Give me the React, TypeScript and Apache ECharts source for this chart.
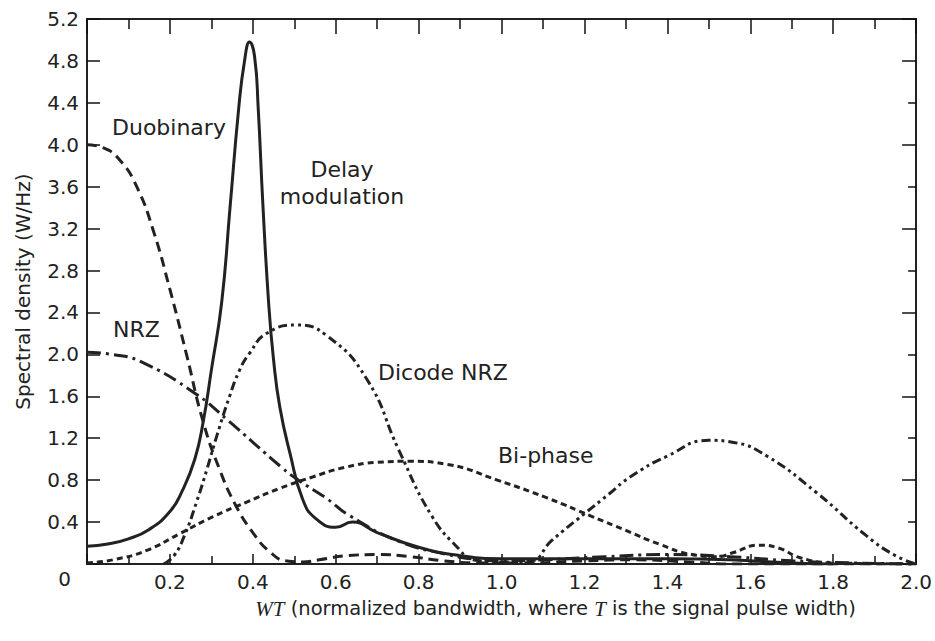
import React, { useEffect, useRef } from "react";
import * as echarts from "echarts";

// ---- Data ----
const xTicks = [0, 0.2, 0.4, 0.6, 0.8, 1.0, 1.2, 1.4, 1.6, 1.8, 2.0];
const yTicks = [0, 0.4, 0.8, 1.2, 1.6, 2.0, 2.4, 2.8, 3.2, 3.6, 4.0, 4.4, 4.8, 5.2];

const duobinary: [number, number][] = [
  [0, 4.0], [0.04, 3.97], [0.08, 3.85], [0.12, 3.6], [0.16, 3.18], [0.2, 2.62],
  [0.24, 2.0], [0.28, 1.36], [0.32, 0.9], [0.36, 0.55], [0.4, 0.3], [0.44, 0.12],
  [0.48, 0.03], [0.52, 0.02], [0.56, 0.04], [0.63, 0.08], [0.7, 0.09], [0.78, 0.07],
  [0.86, 0.03], [0.95, 0.01], [1.05, 0.01], [1.2, 0.03], [1.32, 0.04], [1.45, 0.02],
  [1.55, 0.0], [2.0, 0.0],
];

const delayModulation: [number, number][] = [
  [0, 0.17], [0.05, 0.19], [0.1, 0.24], [0.15, 0.33], [0.2, 0.5], [0.23, 0.7],
  [0.26, 1.0], [0.28, 1.35], [0.3, 1.85], [0.325, 2.5], [0.345, 3.4], [0.366, 4.35],
  [0.38, 4.8], [0.392, 4.98], [0.404, 4.85], [0.413, 4.35], [0.424, 3.45], [0.438, 2.5],
  [0.45, 1.95], [0.465, 1.5], [0.49, 1.05], [0.52, 0.62], [0.55, 0.44], [0.6, 0.35],
  [0.64, 0.4], [0.7, 0.3], [0.8, 0.16], [0.9, 0.08], [1.0, 0.05], [1.2, 0.05],
  [1.4, 0.05], [1.55, 0.04], [1.7, 0.01], [1.8, 0.0],
];

const nrz: [number, number][] = [
  [0, 2.02], [0.06, 2.0], [0.13, 1.93], [0.26, 1.63], [0.34, 1.37], [0.47, 0.92],
  [0.51, 0.8], [0.58, 0.62], [0.63, 0.47], [0.75, 0.22], [0.87, 0.09], [0.95, 0.04],
  [1.0, 0.03], [1.1, 0.04], [1.25, 0.07], [1.4, 0.09], [1.55, 0.07], [1.7, 0.03],
  [1.85, 0.01], [2.0, 0.0],
];

const biPhase: [number, number][] = [
  [0, 0.01], [0.063, 0.04], [0.144, 0.13], [0.224, 0.29], [0.303, 0.45], [0.385, 0.59],
  [0.464, 0.72], [0.544, 0.83], [0.62, 0.92], [0.7, 0.97], [0.78, 0.98], [0.87, 0.95],
  [0.99, 0.8], [1.11, 0.63], [1.22, 0.45], [1.3, 0.32], [1.38, 0.19], [1.46, 0.09],
  [1.52, 0.07], [1.56, 0.11], [1.62, 0.18], [1.67, 0.15], [1.72, 0.06], [1.8, 0.01],
  [2.0, 0.0],
];

const dicodeNrz: [number, number][] = [
  [0.185, 0.0], [0.21, 0.08], [0.235, 0.27], [0.265, 0.6], [0.289, 0.9], [0.313, 1.22],
  [0.344, 1.6], [0.368, 1.85], [0.392, 2.01], [0.433, 2.2], [0.505, 2.28], [0.578, 2.18],
  [0.674, 1.77], [0.753, 1.08], [0.833, 0.45], [0.898, 0.14], [0.93, 0.04], [1.0, 0.02],
  [1.07, 0.03], [1.12, 0.22], [1.2, 0.48], [1.26, 0.67], [1.31, 0.83], [1.4, 1.03],
  [1.5, 1.18], [1.56, 1.16], [1.64, 1.03], [1.76, 0.68], [1.88, 0.27], [1.95, 0.08],
  [2.0, 0.0],
];

const seriesNames = ["Duobinary", "Delay modulation", "NRZ", "Bi-phase", "Dicode NRZ"];

const INK = "#222";
const FONT = "DejaVu Sans";

export default function App() {
  const ref = useRef<HTMLDivElement>(null);

  useEffect(() => {
    if (!ref.current) return;
    const chart = echarts.init(ref.current, undefined, { renderer: "svg" });

    const lineSeries = (name: string, data: [number, number][], type: any) => ({
      name,
      type: "line",
      data,
      smooth: 0.5,
      showSymbol: false,
      symbol: "none",
      lineStyle: { color: INK, width: 3, type },
      z: 3,
    });

    const tickStyle = { color: "#111", width: 1.5 };

    const option: any = {
      animation: false,
      backgroundColor: "#ffffff",
      textStyle: { fontFamily: FONT },
      grid: { left: 87, right: 16, top: 19, bottom: 77 },
      xAxis: [
        {
          type: "value",
          position: "bottom",
          min: xTicks[0],
          max: xTicks[xTicks.length - 1],
          interval: 0.2,
          axisLine: { show: true, onZero: false, lineStyle: { color: INK, width: 2 } },
          axisTick: { show: true, inside: true, length: 10, lineStyle: tickStyle },
          minorTick: { show: true, splitNumber: 2, length: 8, lineStyle: tickStyle },
          splitLine: { show: false },
          axisLabel: {
            color: INK,
            fontSize: 20,
            fontFamily: FONT,
            margin: 8,
            showMaxLabel: true,
            formatter: (v: number) => (v === 0 ? "" : v.toFixed(1)),
          },
          name: "{i|WT} (normalized bandwidth, where {i|T} is the signal pulse width)",
          nameLocation: "middle",
          nameGap: 34,
          nameTextStyle: {
            color: INK,
            fontSize: 19.5,
            fontFamily: FONT,
            padding: [0, 0, 0, 108],
            rich: {
              i: { fontFamily: "Liberation Serif", fontStyle: "italic", fontSize: 21, color: INK },
            },
          },
        },
        {
          type: "value",
          position: "top",
          min: xTicks[0],
          max: xTicks[xTicks.length - 1],
          interval: 0.2,
          axisLine: { show: true, onZero: false, lineStyle: { color: INK, width: 2 } },
          axisTick: { show: true, inside: true, length: 15, lineStyle: tickStyle },
          minorTick: { show: true, splitNumber: 2, length: 10, lineStyle: tickStyle },
          splitLine: { show: false },
          axisLabel: { show: false },
        },
      ],
      yAxis: [
        {
          type: "value",
          position: "left",
          min: yTicks[0],
          max: yTicks[yTicks.length - 1],
          interval: 0.4,
          axisLine: { show: true, onZero: false, lineStyle: { color: INK, width: 2 } },
          axisTick: { show: true, inside: true, length: 13, lineStyle: tickStyle },
          splitLine: { show: false },
          axisLabel: {
            color: INK,
            fontSize: 20,
            fontFamily: FONT,
            margin: 8,
            showMaxLabel: true,
            formatter: (v: number) => (v === 0 ? "{z|0}" : v.toFixed(1)),
            rich: { z: { fontSize: 20, fontFamily: FONT, color: INK, padding: [30, 8, 0, 0] } },
          },
          name: "Spectral density (W/Hz)",
          nameLocation: "middle",
          nameGap: 54,
          nameTextStyle: { color: INK, fontSize: 20, fontFamily: FONT },
        },
        {
          type: "value",
          position: "right",
          min: yTicks[0],
          max: yTicks[yTicks.length - 1],
          interval: 0.8,
          axisLine: { show: true, onZero: false, lineStyle: { color: INK, width: 2 } },
          axisTick: { show: true, inside: true, length: 14, lineStyle: tickStyle },
          minorTick: { show: true, splitNumber: 2, length: 8, lineStyle: tickStyle },
          splitLine: { show: false },
          axisLabel: { show: false },
        },
      ],
      series: [
        lineSeries(seriesNames[0], duobinary, [10, 6]),
        lineSeries(seriesNames[1], delayModulation, "solid"),
        lineSeries(seriesNames[2], nrz, [14, 5, 3, 5]),
        lineSeries(seriesNames[3], biPhase, [6, 4]),
        lineSeries(seriesNames[4], dicodeNrz, [9, 4, 3, 4, 3, 4]),
      ],
      graphic: [
        { type: "text", left: 112, top: 116, style: { text: "Duobinary", fill: INK, font: `22px "${FONT}"` } },
        {
          type: "text",
          x: 342,
          y: 156,
          style: { text: "Delay\nmodulation", fill: INK, font: `22px "${FONT}"`, align: "center", lineHeight: 27 },
        },
        { type: "text", left: 113, top: 318, style: { text: "NRZ", fill: INK, font: `22px "${FONT}"` } },
        { type: "text", left: 378, top: 361, style: { text: "Dicode NRZ", fill: INK, font: `22px "${FONT}"` } },
        { type: "text", left: 498, top: 444, style: { text: "Bi-phase", fill: INK, font: `22px "${FONT}"` } },
      ],
    };

    chart.setOption(option);
    return () => chart.dispose();
  }, []);

  return (
    <div
      ref={ref}
      style={{ position: "fixed", left: 0, top: 0, width: 935, height: 641, background: "#fff" }}
    />
  );
}
